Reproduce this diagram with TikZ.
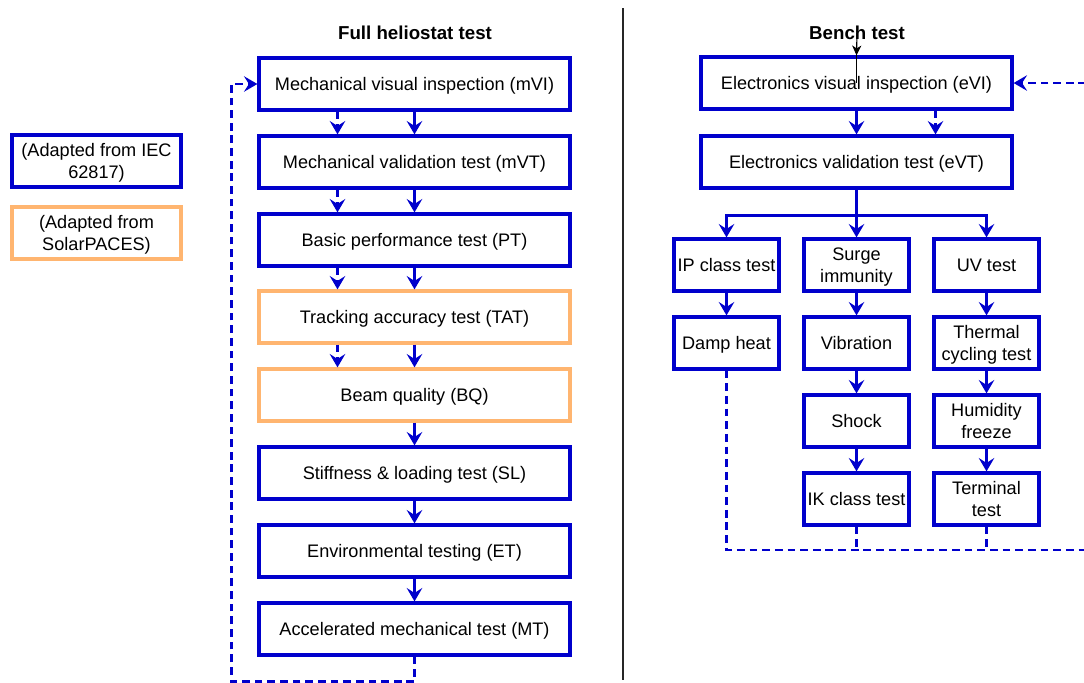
\documentclass[tikz,border=0pt]{standalone}
\usepackage{fontspec}
\setmainfont{Liberation Sans}
\usetikzlibrary{arrows.meta,calc}
\definecolor{iecblue}{HTML}{0000CC}
\definecolor{spaces}{HTML}{FFB570}
\tikzset{>/.tip={Stealth[length=9.5pt,width=11pt,inset=3.5pt]},
  testbox/.style={draw=iecblue, line width=2.3pt, align=center, inner sep=0pt,
    text depth=-0.6pt, font=\fontsize{12.9}{15.6}\selectfont},
  widebox/.style={testbox, minimum width=77.75mm, minimum height=13mm},
  smallbox/.style={testbox, minimum width=26.25mm, minimum height=13mm},
  legendbox/.style={testbox, minimum width=42.25mm, minimum height=13mm},
  paces/.style={draw=spaces},
  flow/.style={->, draw=iecblue, line width=1.8pt},
  dashflow/.style={flow, dash pattern=on 5.5pt off 3.5pt},
  loopline/.style={draw=iecblue, line width=1.8pt, dash pattern=on 5.5pt off 3.5pt},
  heading/.style={font=\fontsize{13.3}{15.6}\selectfont\bfseries}}

\begin{document}
\begin{tikzpicture}[x=0.25mm, y=-0.25mm]
\useasboundingbox (0,0) rectangle (1084,682);
\clip (0,0) rectangle (1084,682);

\node[heading] (full) at (415,33) {Full heliostat test};
\node[heading] (bench) at (857,33) {Bench test};
\coordinate (sepTop) at (623,8);
\coordinate (sepBot) at (623,680);
\draw[line width=1.4pt, black!85] (sepTop) -- (sepBot);

% legend
\node[legendbox] (iec) at (96.5,161) {(Adapted from IEC\\62817)};
\node[legendbox, paces] (solar) at (96.5,233) {(Adapted from\\SolarPACES)};

% full heliostat test
\node[widebox] (mVI) at (414.5,84) {Mechanical visual inspection (mVI)};
\node[widebox] (mVT) at (414.5,162) {Mechanical validation test (mVT)};
\node[widebox] (PT) at (414.5,240) {Basic performance test (PT)};
\node[widebox, paces] (TAT) at (414.5,317) {Tracking accuracy test (TAT)};
\node[widebox, paces] (BQ) at (414.5,395) {Beam quality (BQ)};
\node[widebox] (SL) at (414.5,473) {Stiffness \& loading test (SL)};
\node[widebox] (ET) at (414.5,551) {Environmental testing (ET)};
\node[widebox] (MT) at (414.5,629) {Accelerated mechanical test (MT)};

\foreach \a/\b in {mVI/mVT, mVT/PT, PT/TAT, TAT/BQ}{
  \draw[flow] (\a) -- (\b);
  \draw[dashflow] ($(\a.south)+(-77,0)$) -- ($(\b.north)+(-77,0)$);
}
\foreach \a/\b in {BQ/SL, SL/ET, ET/MT}
  \draw[flow] (\a) -- (\b);

\draw[dashflow] (MT.south) -- ++(0,25) -| ($(mVI.west)+(-26,0)$) -- (mVI.west);

% bench test
\node[widebox] (eVI) at (856.5,83) {Electronics visual inspection (eVI)};
\node[widebox] (eVT) at (856.5,162) {Electronics validation test (eVT)};
\draw[flow] (eVI) -- (eVT);
\draw[dashflow] ($(eVI.south)+(79,0)$) -- ($(eVT.north)+(79,0)$);
\draw[black, line width=0.8pt, -{Stealth[length=7pt,width=6.5pt,inset=2pt]}] (bench.center) -- (eVI.north);
\draw[black, line width=0.8pt] (eVI.north) -- (eVI.center);

\node[smallbox] (IP) at (726.5,265) {IP class test};
\node[smallbox] (surge) at (856.5,265) {Surge\\immunity};
\node[smallbox] (UV) at (986.5,265) {UV test};
\node[smallbox] (damp) at (726.5,343) {Damp heat};
\node[smallbox] (vib) at (856.5,343) {Vibration};
\node[smallbox] (thermal) at (986.5,343) {Thermal\\cycling test};
\node[smallbox] (shock) at (856.5,421) {Shock};
\node[smallbox] (humid) at (986.5,421) {Humidity\\freeze};
\node[smallbox] (IK) at (856.5,499) {IK class test};
\node[smallbox] (terminal) at (986.5,499) {Terminal\\test};

\draw[flow] (eVT.south) -- ++(0,26) -| (IP.north);
\draw[flow] (eVT.south) -- (surge.north);
\draw[flow] (eVT.south) -- ++(0,26) -| (UV.north);
\foreach \a/\b in {IP/damp, surge/vib, vib/shock, shock/IK, UV/thermal, thermal/humid, humid/terminal}
  \draw[flow] (\a) -- (\b);

\coordinate (loopR) at (1100,550);
\draw[loopline] (damp.south) |- (loopR);
\draw[loopline] (IK.south) -- (IK.south |- loopR);
\draw[loopline] (terminal.south) -- (terminal.south |- loopR);
\draw[dashflow] (loopR) |- (eVI.east);
\end{tikzpicture}
\end{document}
